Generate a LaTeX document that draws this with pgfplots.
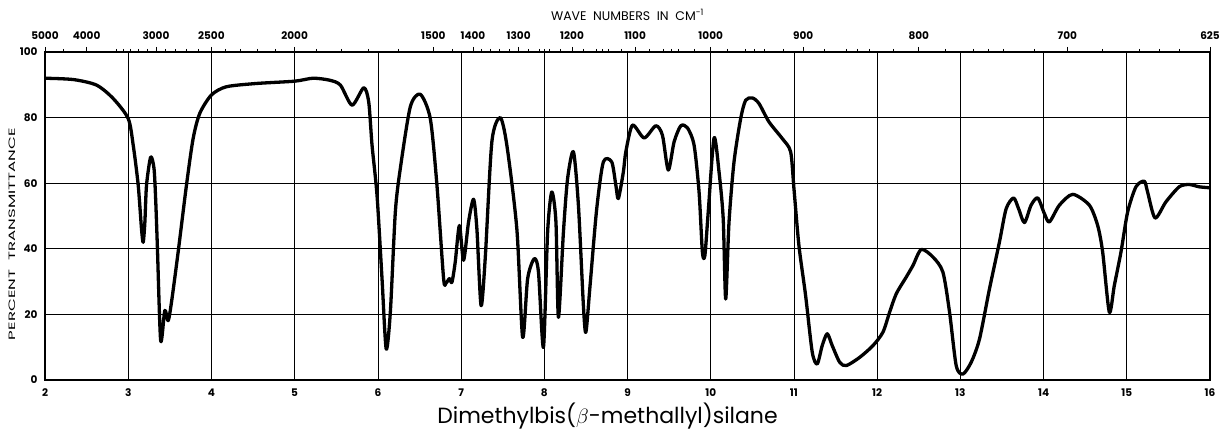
\documentclass[border=0pt]{standalone}
\usepackage{pgfplots}
\pgfplotsset{compat=1.18}
\usepackage{pgfplotstable}
\usepackage{graphicx}
\usepackage{fontspec}
\setmainfont{Poppins}

\pgfplotstableread{
x y
2.00 92.0
2.34 91.6
2.62 89.9
2.82 85.8
3.00 79.7
3.06 71.6
3.12 59.4
3.16 46
3.18 42.0
3.20 48
3.22 59.4
3.27 68.0
3.31 64.5
3.33 55
3.35 41
3.39 12.0
3.44 21.2
3.48 18.1
3.52 23.7
3.60 39
3.70 59.4
3.78 73.6
3.86 81.3
4.00 86.9
4.18 89.4
4.54 90.4
5.00 91.1
5.22 92.0
5.42 91.4
5.55 89.9
5.69 83.8
5.83 89.1
5.89 84.8
5.93 71.6
5.99 56.3
6.05 30.9
6.10 9.5
6.15 20.7
6.21 51.2
6.27 64.5
6.39 83.3
6.51 87.1
6.63 79.7
6.71 59.4
6.79 30.9
6.82 29.6
6.86 30.9
6.89 29.8
6.93 36
6.98 47.1
7.03 36.5
7.09 48.2
7.15 55.1
7.19 46.1
7.24 22.7
7.29 37
7.37 72.6
7.47 80.0
7.55 71.6
7.67 46.1
7.74 13.0
7.80 30.9
7.88 37.0
7.93 32.9
7.99 10.0
8.04 45.1
8.09 57.3
8.14 48.2
8.17 19.1
8.23 45.1
8.28 61.4
8.35 69.6
8.41 53.3
8.47 22.7
8.50 14.6
8.55 28.8
8.63 52.2
8.71 66.5
8.81 66.5
8.86 59.4
8.89 55.3
8.95 63.4
8.98 69.6
9.06 77.7
9.20 73.8
9.34 77.5
9.42 74.6
9.49 64.0
9.56 72.6
9.64 77.5
9.72 76.9
9.80 71.6
9.86 57.3
9.90 39
9.93 38
9.97 51.2
10.04 73.8
10.10 63.4
10.15 49.2
10.18 24.7
10.22 48.2
10.28 66.5
10.36 79.7
10.42 85.3
10.50 86.0
10.58 84.3
10.70 78.7
10.86 73.6
10.96 69.6
11.00 58.4
11.06 41
11.14 25.8
11.22 8.5
11.28 4.9
11.34 10.5
11.40 14.1
11.46 10.5
11.55 5.4
11.63 4.4
11.79 6.9
11.95 10.5
12.07 14.6
12.15 20.7
12.23 26.3
12.35 31.4
12.43 34.9
12.53 39.8
12.67 37.5
12.79 32.9
12.87 20.7
12.95 4.4
13.03 1.8
13.13 5.4
13.23 12.5
13.35 27.8
13.47 42.1
13.55 52.2
13.64 55.5
13.70 52.2
13.77 48.0
13.85 53.3
13.93 55.5
14.01 50.7
14.07 48.2
14.19 53.3
14.35 56.6
14.55 53.3
14.65 47.1
14.71 39
14.79 20.7
14.85 28.8
14.93 39
15.01 51.2
15.11 58.9
15.21 60.6
15.25 57.3
15.34 49.4
15.47 54.3
15.63 58.9
15.75 59.6
15.87 58.9
16.00 58.6
}\spectrum

\begin{document}
\begin{tikzpicture}
\begin{axis}[name=ax,
  scale only axis, width=1165pt, height=328pt,
  xmin=2, xmax=16, ymin=0, ymax=100,
  xtick={2,...,16}, ytick={0,20,...,100},
  grid=major, major tick length=0pt,
  axis line style={line width=1.3pt},
  x grid style={black, line width=0.7pt},
  y grid style={black, line width=1.1pt},
  tick label style={font=\bfseries\fontsize{10.5}{12}\selectfont},
  /pgf/number format/assume math mode=true,
  xticklabel style={anchor=center, yshift=-13pt},
  yticklabel style={anchor=east, xshift=-4pt},
]
\addplot[line width=3.3pt, smooth, tension=0.45, line join=round, line cap=round] table {\spectrum};
\end{axis}
\begin{axis}[
  scale only axis, width=1165pt, height=328pt,
  xmin=2, xmax=16, ymin=0, ymax=100,
  axis x line*=top, axis y line=none,
  axis line style={line width=1.3pt},
  xtick={2.0,2.5,3.3333,4.0,5.0,6.6667,7.1429,7.6923,8.3333,9.0909,10.0,11.1111,12.5,14.2857,16.0},
  xticklabels={5000,4000,3000,2500,2000,1500,1400,1300,1200,1100,1000,900,800,700,625},
  minor xtick={2.2222,2.8571,2.9412,3.0303,3.125,3.2258,3.4483,3.5714,3.7037,3.8462,4.1667,4.3478,4.5455,4.7619,5.2632,5.5556,5.8824,6.25,6.8966,7.2464,7.3529,7.4627,7.5758,7.8125,7.9365,8.0,8.0645,8.1967,8.4746,8.6207,8.6957,8.7719,8.9286,9.2593,9.434,9.5238,9.6154,9.8039,10.2041,10.4167,10.5263,10.6383,10.8696,11.3636,11.6279,11.7647,11.9048,12.1951,12.8205,13.1579,13.3333,13.5135,13.8889,14.7059,15.1515,15.3846,15.625},
  tick align=outside, major tick length=5pt, minor tick length=3pt,
  every tick/.style={black, line width=0.6pt},
  tick label style={font=\bfseries\fontsize{10.5}{12}\selectfont},
  /pgf/number format/assume math mode=true,
  xticklabel style={anchor=center, yshift=11pt},
]
\end{axis}
\node[font=\fontsize{12.5}{14}\selectfont] at ([yshift=37pt]ax.north) {WAVE\ \ NUMBERS\ \ IN\ \ CM\textsuperscript{-1}};
\node[rotate=90, anchor=center, inner sep=0pt] at ([xshift=-33pt, yshift=-18pt]ax.west) {\resizebox{212pt}{6.5pt}{\fontsize{10}{12}\selectfont PERCENT\ \ TRANSMITTANCE}};
\node[anchor=base, font=\fontsize{22}{26}\selectfont] at ([xshift=-20pt,yshift=-43pt]ax.south) {Dimethylbis($\beta$-methallyl)silane};
\pgfresetboundingbox
\path ([xshift=-45pt,yshift=-50pt]ax.south west) rectangle ([xshift=11pt,yshift=52pt]ax.north east);
\end{tikzpicture}
\end{document}
